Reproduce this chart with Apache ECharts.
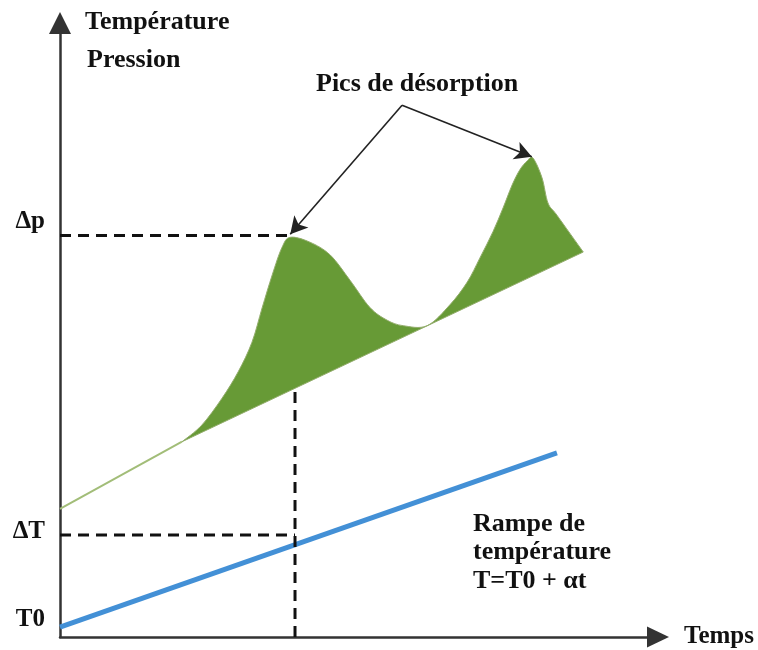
<!DOCTYPE html>
<html>
<head>
<meta charset="utf-8">
<script src="https://cdn.jsdelivr.net/npm/echarts@6/dist/echarts.min.js"></script>
<style>
  html, body { margin: 0; background: #fff; }
  #chart { width: 758px; height: 650px; }
</style>
</head>
<body>
<div id="chart"></div>
<script>
// bord supérieur de la zone verte (pics de désorption), temps / signal
const peakTime = [20.4, 23.7, 27.1, 29.8, 32.1, 33.8, 35.5, 37.1, 38.5, 41.8, 45.2, 48.5, 51.8, 54.7, 57.4,
  61.4, 65.2, 68.1, 70.2, 72.4, 74.1, 75.6, 76.9, 78.1, 79.1, 80.6, 81.6, 83.1, 87.5]
const peakSignal = [31.8, 34.5, 38.9, 43.2, 48.0, 53.6, 59.0, 63.4, 65.1, 64.3, 62.2, 58.1, 53.7, 51.6, 50.7,
  50.7, 54.1, 57.8, 61.7, 66.0, 69.9, 73.6, 76.1, 77.5, 78.0, 74.8, 70.7, 68.7, 62.7]

// ligne de base avant le premier pic
const baseTime = [0, 20.4]
const baseSignal = [20.85, 31.8]

// rampe de température
const rampTime = [0, 83.1]
const rampTemp = [1.6, 30.0]

// repères pointillés
const dpLevel = 65.4
const dpTime = 38.3
const dtLevel = 16.6
const markTime = 39.3
const markTop = 40.3

// étiquettes de l'axe vertical
const yLabelValues = [2.8, 17.1, 67.6]
const yLabelNames = ['T0', 'ΔT', 'Δp']

// flèches "Pics de désorption"
const arrowFrom = [57.2, 86.6]
const arrowTo = [[38.5, 65.6], [78.9, 78.2]]

const serif = '"Liberation Serif", "Times New Roman", serif'
const textFont = 'bold 26px ' + serif
const chart = echarts.init(document.getElementById('chart'))

const dashStyle = { color: '#111', width: 3, type: [11, 7] }

// courbe lissée (Catmull-Rom) fermée par la ligne de base
function smoothPath(pts) {
  let d = 'M' + pts[0][0] + ' ' + pts[0][1]
  for (let i = 0; i < pts.length - 1; i++) {
    const p0 = pts[Math.max(i - 1, 0)]
    const p1 = pts[i]
    const p2 = pts[i + 1]
    const p3 = pts[Math.min(i + 2, pts.length - 1)]
    const c1x = p1[0] + (p2[0] - p0[0]) / 6
    const c1y = p1[1] + (p2[1] - p0[1]) / 6
    const c2x = p2[0] - (p3[0] - p1[0]) / 6
    const c2y = p2[1] - (p3[1] - p1[1]) / 6
    d += 'C' + c1x + ' ' + c1y + ' ' + c2x + ' ' + c2y + ' ' + p2[0] + ' ' + p2[1]
  }
  return d + 'Z'
}

const option = {
  backgroundColor: '#fff',
  animation: false,
  grid: { left: 60, right: 100, top: 23, bottom: 13 },
  xAxis: {
    type: 'value',
    min: 0,
    max: 100,
    name: 'Temps',
    nameLocation: 'end',
    nameGap: 26,
    nameTextStyle: { fontFamily: serif, fontWeight: 'bold', fontSize: 25, color: '#111' },
    axisLine: {
      lineStyle: { color: '#333', width: 2.5 },
      symbol: ['none', 'triangle'],
      symbolSize: [21, 22]
    },
    axisTick: { show: false },
    axisLabel: { show: false },
    splitLine: { show: false }
  },
  yAxis: {
    type: 'value',
    min: 0,
    max: 100,
    axisLine: {
      show: true,
      lineStyle: { color: '#333', width: 2.5 },
      symbol: ['none', 'triangle'],
      symbolSize: [22, 22]
    },
    axisTick: { show: false },
    splitLine: { show: false },
    axisLabel: {
      customValues: yLabelValues,
      margin: 15,
      fontFamily: serif,
      fontWeight: 'bold',
      fontSize: 25,
      color: '#111',
      formatter: function (v) {
        let best = 0
        yLabelValues.forEach((y, i) => { if (Math.abs(y - v) < Math.abs(yLabelValues[best] - v)) best = i })
        return yLabelNames[best]
      }
    }
  },
  graphic: [
    { type: 'text', left: 85, top: 9, style: { text: 'Température', font: textFont, fill: '#111' } },
    { type: 'text', left: 87, top: 47, style: { text: 'Pression', font: textFont, fill: '#111' } },
    { type: 'text', left: 316, top: 71, style: { text: 'Pics de désorption', font: textFont, fill: '#111' } },
    {
      type: 'text', left: 473, top: 510,
      style: { text: 'Rampe de\ntempérature\nT=T0 + αt', font: textFont, lineHeight: 28.5, fill: '#111' }
    }
  ],
  series: [
    {
      type: 'custom',
      name: 'pics',
      z: 2,
      data: peakTime.map((t, i) => [t, peakSignal[i]]),
      encode: { x: 0, y: 1 },
      renderItem: function (params, api) {
        if (params.dataIndex !== 0) return null
        const pts = peakTime.map((t, i) => api.coord([t, peakSignal[i]]))
        return {
          type: 'path',
          shape: { pathData: smoothPath(pts) },
          style: { fill: '#679a36', stroke: '#93ad6c', lineWidth: 1 }
        }
      }
    },
    {
      type: 'line',
      name: 'base',
      z: 3,
      symbol: 'none',
      data: baseTime.map((t, i) => [t, baseSignal[i]]),
      lineStyle: { color: '#a2bd78', width: 2 }
    },
    {
      type: 'line',
      name: 'rampe',
      z: 3,
      symbol: 'none',
      data: rampTime.map((t, i) => [t, rampTemp[i]]),
      lineStyle: { color: '#4390d6', width: 5 }
    },
    {
      type: 'line', z: 4, symbol: 'none',
      data: [[0, dpLevel], [dpTime, dpLevel]],
      lineStyle: dashStyle
    },
    {
      type: 'line', z: 4, symbol: 'none',
      data: [[0, dtLevel], [markTime, dtLevel]],
      lineStyle: dashStyle
    },
    {
      type: 'line', z: 4, symbol: 'none',
      data: [[markTime, 0], [markTime, markTop]],
      lineStyle: dashStyle,
      markLine: {
        silent: true,
        symbol: ['none', 'arrow'],
        symbolSize: [14, 17],
        label: { show: false },
        lineStyle: { color: '#222', width: 1.6, type: 'solid' },
        data: arrowTo.map(p => [{ coord: arrowFrom }, { coord: p }])
      }
    }
  ]
}

chart.setOption(option)
</script>
</body>
</html>
